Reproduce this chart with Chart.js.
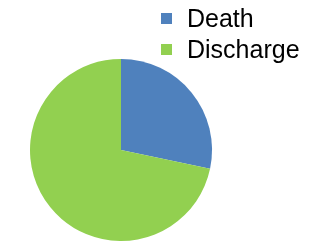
<!DOCTYPE html>
<html>
<head>
<meta charset="utf-8">
<script src="https://cdn.jsdelivr.net/npm/chart.js@4"></script>
<style>
  html, body { margin: 0; padding: 0; background: #fff; overflow: hidden; }
  #wrap { position: relative; width: 322px; height: 250px; }
</style>
</head>
<body>
<div id="wrap"><canvas id="chart"></canvas></div>
<script>
const outcomeLabels = ["Death", "Discharge"];
const outcomeValues = [28.3, 71.7];
const outcomeColors = ["#4F81BD", "#92D050"];

// legend drawn by hand so it can sit over the top right like the original
const sideLegend = {
  id: "sideLegend",
  afterDraw(chart) {
    const c = chart.ctx;
    const ds = chart.data.datasets[0];
    c.save();
    c.font = "25px 'Liberation Sans', Arial, sans-serif";
    c.textBaseline = "alphabetic";
    chart.data.labels.forEach((lab, i) => {
      const y = 13 + i * 31;
      c.fillStyle = ds.backgroundColor[i];
      c.fillRect(161, y, 11, 11);
      c.fillStyle = "#000";
      c.fillText(lab, 187, y + 14);
    });
    c.restore();
  }
};

new Chart(document.getElementById("chart"), {
  type: "pie",
  data: {
    labels: outcomeLabels,
    datasets: [{
      data: outcomeValues,
      backgroundColor: outcomeColors,
      borderWidth: 0,
      hoverOffset: 0
    }]
  },
  options: {
    responsive: true,
    maintainAspectRatio: false,
    animation: false,
    layout: { padding: { left: 30, right: 110, top: 59, bottom: 9 } },
    plugins: {
      legend: { display: false },
      tooltip: { enabled: false }
    }
  },
  plugins: [sideLegend]
});
</script>
</body>
</html>
